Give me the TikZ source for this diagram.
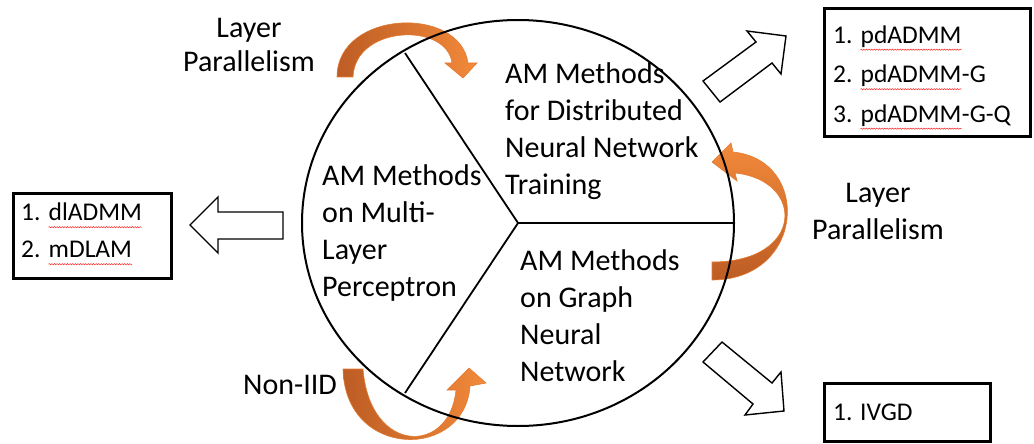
\documentclass[tikz,border=0pt]{standalone}
\usepackage{fontspec}
\setmainfont{Carlito}
\usetikzlibrary{positioning,decorations.pathmorphing}

\definecolor{orgdark}{HTML}{BD5C24}
\definecolor{orglight}{HTML}{F28A3A}

% red spell-check wave under a word
\newcommand{\spellmark}[1]{\tikz[baseline=(w.base)]{\node[inner sep=0pt] (w) {#1};
  \draw[red!85!white, line width=0.5pt, decorate, decoration={snake, amplitude=0.6pt, segment length=2.6pt}]
    ([yshift=-6.5pt]w.base west) -- ([yshift=-6.5pt]w.base east);}}

\begin{document}
\begin{tikzpicture}[x=1pt, y=-1pt,
  lbl/.style={font=\fontsize{30}{37}\selectfont, inner sep=0pt, align=left},
  item/.style={font=\fontsize{25.5}{39.5}\selectfont, inner sep=0pt, align=left},
  listbox/.style={draw, line width=3pt, inner sep=0pt, anchor=north west},
  blockarr/.style={draw, fill=white, line width=1.4pt},
  bendh/.style={left color=orgdark, right color=orglight, draw=orglight!70!orgdark, line width=0.6pt},
  bendv/.style={top color=orglight, bottom color=orgdark, draw=orglight!70!orgdark, line width=0.6pt}]
\useasboundingbox (0,0) rectangle (1034,444);

% curved orange arrows (behind the circle)
\path[bendh] (337,77) .. controls (337,10) and (460,5) .. (468,63) -- (477,63) -- (463,78)
  -- (445,63) -- (452,63) .. controls (447,22) and (355,25) .. (353,77) -- cycle;
\path[bendv] (712,280) .. controls (805,280) and (812,160) .. (733,152) -- (731,143) -- (712,162)
  -- (737,181) -- (735,173) .. controls (805,180) and (805,262) .. (712,262) -- cycle;
\path[bendh] (343,369) .. controls (345,460) and (465,460) .. (470,386) -- (486,383) -- (469,368)
  -- (447,390) -- (456,390) .. controls (450,455) and (370,455) .. (363,369) -- cycle;

% circle split in three
\coordinate (hub) at (518,223);
\coordinate (cuttop) at (405,53);
\coordinate (cutright) at (733,223);
\coordinate (cutbot) at (405,393);
\draw[line width=2pt] (hub) ellipse [x radius=216, y radius=203];
\draw[line width=1.8pt] (hub) -- (cuttop);
\draw[line width=1.8pt] (hub) -- (cutright);
\draw[line width=1.8pt] (hub) -- (cutbot);

\node[lbl, anchor=west] (dist) at (505,131) {AM Methods\\for Distributed\\Neural Network\\Training};
\node[lbl, anchor=west] (mlp) at (322,233) {AM Methods\\on Multi-\\Layer\\Perceptron};
\node[lbl, anchor=west] (gnn) at (520,316) {AM Methods\\on Graph\\Neural\\Network};

% side labels
\node[lbl, align=center, font=\fontsize{30}{34}\selectfont] (lpleft) at (249,45) {Layer\\Parallelism};
\node[lbl, align=center] (lpright) at (878,211) {Layer\\Parallelism};
\node[lbl] (noniid) at (290,385) {Non-IID};

% block arrows
\draw[blockarr] (190,225) -- (218,197) -- (218,212) -- (283,212) -- (283,239) -- (218,239) -- (218,253) -- cycle;
\draw[blockarr] (703,81) -- (756,42) -- (747,31) -- (786,36) -- (781,74) -- (772,63) -- (720,102) -- cycle;
\draw[blockarr] (722,342) -- (772,383) -- (781,372) -- (784,411) -- (745,415) -- (753,404) -- (703,362) -- cycle;

% result lists
\node[listbox, minimum width=206, minimum height=128] (pdbox) at (823,7) {};
\node[item, right=10pt of pdbox.west, yshift=-5pt] (pdlist)
  {1. \spellmark{pdADMM}\\2. \spellmark{pdADMM}-G\\3. \spellmark{pdADMM}-G-Q};
\node[listbox, minimum width=158, minimum height=85] (mlpbox) at (12,192) {};
\node[item, right=9pt of mlpbox.west, yshift=2pt, font=\fontsize{25.5}{37}\selectfont] (mlplist)
  {1. \spellmark{dlADMM}\\2. \spellmark{mDLAM}};
\node[listbox, minimum width=166, minimum height=58] (gnnbox) at (823,382) {};
\node[item, right=10pt of gnnbox.west] (gnnlist) {1. IVGD};
\end{tikzpicture}
\end{document}
